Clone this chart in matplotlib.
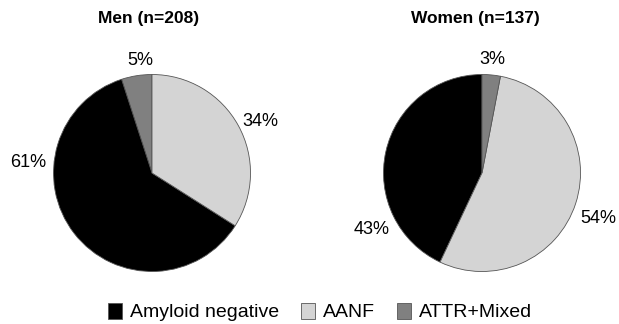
import numpy as np
import matplotlib.pyplot as plt

plt.rcParams['font.family'] = ['Liberation Sans', 'DejaVu Sans']

categories = ['Amyloid negative', 'AANF', 'ATTR+Mixed']
colors = ['#000000', '#d4d4d4', '#808080']

men_pct = [61, 34, 5]
women_pct = [43, 54, 3]
titles = ['Men (n=208)', 'Women (n=137)']

# slice order, counterclockwise from 12 o'clock (indices into categories)
men_order = [2, 0, 1]
women_order = [0, 1, 2]

# label spots in pie units (radius = 1)
men_label_xy = [(-1.26, 0.11), (1.10, 0.52), (-0.12, 1.14)]
women_label_xy = [(-1.12, -0.57), (1.18, -0.46), (0.11, 1.15)]

W, H = 619, 324
fig = plt.figure(figsize=(W / 100, H / 100), dpi=100)

def draw_pie(cx, cy, r, values, order, label_xy, title, title_x):
    ax = fig.add_axes([(cx - r) / W, (H - cy - r) / H, 2 * r / W, 2 * r / H])
    wedges, _ = ax.pie([values[i] for i in order],
                       colors=[colors[i] for i in order],
                       startangle=90, counterclock=True,
                       wedgeprops=dict(edgecolor='#555555', linewidth=0.6))
    ax.set_xlim(-1, 1)
    ax.set_ylim(-1, 1)
    ax.set_aspect('equal')
    for v, (x, y) in zip(values, label_xy):
        ax.text(x, y, f'{v}%', ha='center', va='center', fontsize=13,
                clip_on=False)
    fig.text(title_x / W, 1 - 18 / H, title, ha='center', va='center',
             fontsize=12.5, fontweight='bold')
    # wedges back in category order
    return [wedges[order.index(i)] for i in range(len(categories))]

handles = draw_pie(152, 173, 98.5, men_pct, men_order, men_label_xy, titles[0], 149)
draw_pie(482, 173, 98.5, women_pct, women_order, women_label_xy, titles[1], 475)

fig.legend(handles, categories, loc='center left',
           bbox_to_anchor=(108 / W, 1 - 312 / H),
           ncol=3, frameon=False, fontsize=14, handlelength=0.72,
           handleheight=0.88, handletextpad=0.41, columnspacing=1.13,
           borderpad=0, borderaxespad=0)

fig.savefig('out.png', dpi=100)
